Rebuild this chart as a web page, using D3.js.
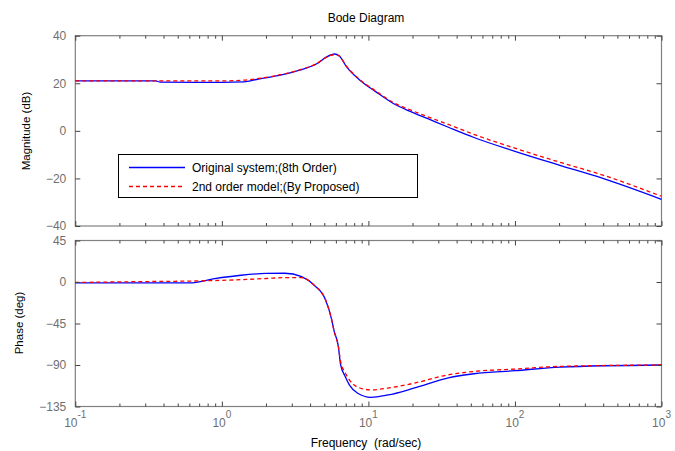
<!DOCTYPE html>
<html>
<head>
<meta charset="utf-8">
<script src="https://cdn.jsdelivr.net/npm/d3@7"></script>
<style>
  body { margin: 0; background: #fff; }
  svg text { font-family: "Liberation Sans", Arial, sans-serif; }
</style>
</head>
<body>
<svg id="chart" width="675" height="451"></svg>
<script>
// frequencies (rad/sec)
const magFreq = [0.1, 0.355, 0.38, 1.0, 1.41, 1.78, 2.51, 3.39, 4.47, 5.19, 5.89, 6.31, 7.08, 8.71, 11.2, 14.8, 19.1, 25.7, 35.5, 52.5, 100, 200, 398, 1000];
const magOriginal = [21.0, 21.0, 20.5, 20.4, 20.6, 21.8, 23.4, 25.5, 28.3, 31.1, 32.3, 31.6, 27.0, 21.4, 16.5, 11.5, 8.3, 5.0, 1.4, -2.8, -8.6, -14.4, -20.0, -28.8];
const magModel = [21.0, 21.0, 21.0, 21.0, 21.3, 22.0, 23.6, 25.6, 28.4, 31.0, 32.0, 31.5, 27.2, 21.6, 16.8, 11.9, 8.9, 5.8, 2.6, -1.5, -7.3, -13.1, -18.6, -27.5];

const phFreq = [0.1, 0.316, 0.603, 0.891, 1.35, 2.0, 2.69, 3.5, 4.27, 5.09, 5.62, 5.83, 6.24, 6.46, 6.92, 7.41, 8.45, 10.4, 13.6, 20.4, 35.1, 52.5, 100, 204, 1000];
const phOriginal = [-1, -1, -1, 3.6, 7.3, 9.3, 9.5, 5.8, -3.6, -19, -41, -53, -70, -89.6, -102, -111.5, -120.6, -125, -122.5, -115.2, -104, -99.5, -96.2, -92.2, -90];
const phModel = [-0.5, 0.5, 1, 1.6, 2.5, 3.8, 4.7, 4.7, -3.6, -19, -41, -53, -70, -86, -98, -106, -114, -117, -115, -109.8, -100.6, -97, -94.4, -91.5, -90];

const magTicks = [-40, -20, 0, 20, 40];
const phTicks = [-135, -90, -45, 0, 45];
const decades = [-1, 0, 1, 2, 3];
const legendLabels = ["Original system;(8th Order)", "2nd order model;(By Proposed)"];

const svg = d3.select("#chart");
const left = 75.3, right = 661.5;
const x = d3.scaleLog().domain([0.1, 1000]).range([left, right]);
const yMag = d3.scaleLinear().domain([-40, 40]).range([226, 35.7]);
const yPh = d3.scaleLinear().domain([-135, 45]).range([406.5, 240.5]);

const minor = [];
decades.slice(0, -1).forEach(d => {
  for (let k = 2; k <= 9; k++) minor.push(k * Math.pow(10, d));
});
const major = decades.map(d => Math.pow(10, d));

function panel(y, ticks, orig, model, freq) {
  const g = svg.append("g");
  const [y0, y1] = y.range();
  g.append("rect")
    .attr("x", left).attr("y", y1)
    .attr("width", right - left).attr("height", y0 - y1)
    .attr("fill", "#fff").attr("stroke", "#808080").attr("stroke-width", 1.2);

  const line = d3.line()
    .x((d, i) => x(freq[i]))
    .y(d => y(d))
    .curve(d3.curveMonotoneX);

  g.append("path").datum(orig)
    .attr("d", line).attr("fill", "none")
    .attr("stroke", "#0000ff").attr("stroke-width", 1.3);
  g.append("path").datum(model)
    .attr("d", line).attr("fill", "none")
    .attr("stroke", "#ff0000").attr("stroke-width", 1.3)
    .attr("stroke-dasharray", "4,3");

  // ticks, pointing inward
  const addAxis = (axis, tr) => {
    const a = g.append("g").attr("transform", tr).call(axis);
    a.select(".domain").remove();
    a.selectAll(".tick line").attr("stroke", "#444");
    return a;
  };
  addAxis(d3.axisBottom(x).tickValues(major).tickSize(-5).tickFormat(""), `translate(0,${y0})`);
  addAxis(d3.axisBottom(x).tickValues(minor).tickSize(-3).tickFormat(""), `translate(0,${y0})`);
  addAxis(d3.axisTop(x).tickValues(major).tickSize(-5).tickFormat(""), `translate(0,${y1})`);
  addAxis(d3.axisTop(x).tickValues(minor).tickSize(-3).tickFormat(""), `translate(0,${y1})`);
  addAxis(d3.axisRight(y).tickValues(ticks).tickSize(-5).tickFormat(""), `translate(${right},0)`);
  const ya = addAxis(d3.axisLeft(y).tickValues(ticks).tickSize(-5).tickPadding(9), `translate(${left},0)`);
  ya.selectAll("text")
    .attr("fill", "#6f6f6f")
    .style("font-size", "12px")
    .style("font-family", "'Liberation Sans', Arial, sans-serif");
  return g;
}

panel(yMag, magTicks, magOriginal, magModel, magFreq);
panel(yPh, phTicks, phOriginal, phModel, phFreq);

// decade labels 10^k
const xl = svg.append("g");
decades.forEach(d => {
  const t = xl.append("text")
    .attr("x", x(Math.pow(10, d)))
    .attr("y", 426.5)
    .attr("text-anchor", "middle")
    .attr("fill", "#6f6f6f")
    .style("font-size", "12px");
  t.append("tspan").text("10");
  t.append("tspan").attr("dy", -9).style("font-size", "10px").text(d);
});

svg.append("text")
  .attr("x", 366).attr("y", 22)
  .attr("text-anchor", "middle")
  .style("font-size", "12px")
  .text("Bode Diagram");

svg.append("text")
  .attr("x", 366).attr("y", 447)
  .attr("text-anchor", "middle")
  .style("font-size", "12px")
  .style("white-space", "pre")
  .text("Frequency  (rad/sec)");

svg.append("text")
  .attr("transform", "translate(30,131) rotate(-90)")
  .attr("text-anchor", "middle")
  .style("font-size", "11.5px")
  .text("Magnitude (dB)");

svg.append("text")
  .attr("transform", "translate(23,323) rotate(-90)")
  .attr("text-anchor", "middle")
  .style("font-size", "11.5px")
  .text("Phase (deg)");

// legend
const lg = svg.append("g");
lg.append("rect")
  .attr("x", 118.5).attr("y", 154.5)
  .attr("width", 299).attr("height", 43)
  .attr("fill", "#fff").attr("stroke", "#000").attr("stroke-width", 1);
const legendStyle = [
  { color: "#0000ff", dash: null },
  { color: "#ff0000", dash: "4,3" }
];
legendLabels.forEach((label, i) => {
  const yy = 167.5 + i * 19;
  lg.append("line")
    .attr("x1", 129).attr("x2", 185)
    .attr("y1", yy).attr("y2", yy)
    .attr("stroke", legendStyle[i].color)
    .attr("stroke-width", 1.3)
    .attr("stroke-dasharray", legendStyle[i].dash);
  lg.append("text")
    .attr("x", 192).attr("y", yy + 4.5)
    .style("font-size", "12px")
    .text(label);
});
</script>
</body>
</html>
